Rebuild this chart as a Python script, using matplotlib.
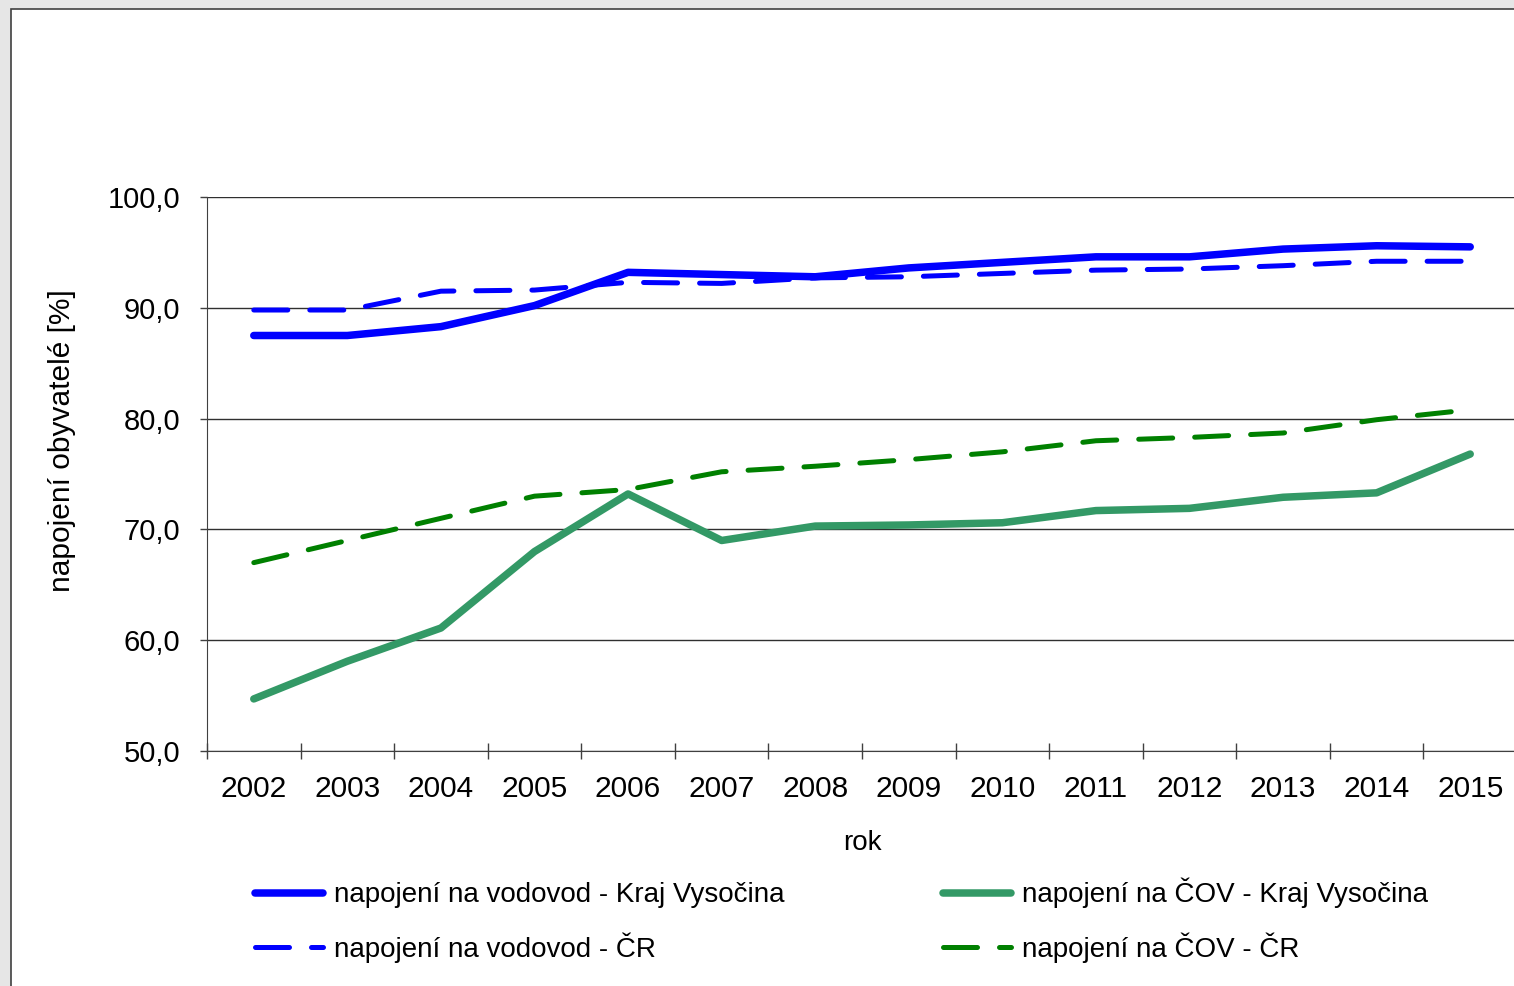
import matplotlib
matplotlib.use("Agg")
import matplotlib.pyplot as plt
from matplotlib.patches import Rectangle
from matplotlib.ticker import FuncFormatter, MultipleLocator

plt.rcParams['font.family'] = ['Liberation Sans', 'DejaVu Sans']

years = ["2002", "2003", "2004", "2005", "2006", "2007", "2008",
         "2009", "2010", "2011", "2012", "2013", "2014", "2015"]

vodovod_kraj = [87.5, 87.5, 88.3, 90.2, 93.2, 93.0, 92.8, 93.6, 94.1, 94.6, 94.6, 95.3, 95.6, 95.5]
vodovod_cr = [89.8, 89.8, 91.5, 91.6, 92.3, 92.2, 92.7, 92.8, 93.1, 93.4, 93.5, 93.8, 94.2, 94.2]
cov_kraj = [54.7, 58.1, 61.1, 68.0, 73.2, 69.0, 70.3, 70.4, 70.6, 71.7, 71.9, 72.9, 73.3, 76.8]
cov_cr = [67.0, 69.0, 71.0, 73.0, 73.6, 75.2, 75.7, 76.3, 77.0, 78.0, 78.3, 78.7, 79.9, 80.8]

labels = ["napojení na vodovod - Kraj Vysočina", "napojení na vodovod - ČR",
          "napojení na ČOV - Kraj Vysočina", "napojení na ČOV - ČR"]

W, H = 1514, 986
fs = 20
fig = plt.figure(figsize=(W / 100, H / 100), dpi=100, facecolor='#e6e6e6')

# white chart panel with a dark border (cropped on the right and bottom)
fig.patches.append(Rectangle((11 / W, -0.05), 1.1, 1 - 9 / H + 0.05, transform=fig.transFigure,
                             facecolor='white', edgecolor='#404040', linewidth=1.2, zorder=-5))

ax = fig.add_axes([207 / W, (H - 751) / H, (1517 - 207) / W, (751 - 197) / H])
ax.set_facecolor('none')

x = list(range(len(years)))
lw_solid = 5.4
lw_dash = 3.6
ax.plot(x, vodovod_kraj, color='#0000ff', lw=lw_solid, solid_capstyle='round', solid_joinstyle='round', label=labels[0], zorder=4)
ax.plot(x, vodovod_cr, color='#0000ff', lw=lw_dash, dashes=(6.8, 4.4), dash_capstyle='round', label=labels[1], zorder=3)
ax.plot(x, cov_kraj, color='#339966', lw=lw_solid, solid_capstyle='round', solid_joinstyle='round', label=labels[2], zorder=4)
ax.plot(x, cov_cr, color='#008000', lw=lw_dash, dashes=(6.8, 4.4), dash_capstyle='round', label=labels[3], zorder=3)

ax.set_xlim(-0.5, 13.5)
ax.set_ylim(50, 100)
ax.yaxis.set_major_locator(MultipleLocator(10))
ax.yaxis.set_major_formatter(FuncFormatter(lambda v, p: f"{v:.1f}".replace('.', ',')))
ax.grid(axis='y', color='#303030', linewidth=1.0)
ax.set_axisbelow(True)
# top gridline is barely visible in the original
ax.get_ygridlines()[-1].set_color('#f2f2f2')

ax.set_xticks(x)
ax.set_xticklabels(years)
ax.set_xticks([i - 0.5 for i in range(len(years) + 1)], minor=True)
ax.tick_params(axis='x', which='major', length=0, pad=17, labelsize=21.5)
ax.tick_params(axis='x', which='minor', direction='inout', length=11, width=1, color='#404040')
ax.tick_params(axis='y', which='major', direction='out', length=5, width=1, color='#404040', labelsize=21, pad=14)

for s in ['top', 'right']:
    ax.spines[s].set_visible(False)
ax.spines['left'].set_color('#404040')
ax.spines['bottom'].set_color('#404040')

ax.set_xlabel("rok", fontsize=fs, labelpad=20)
ax.set_ylabel("napojení obyvatelé [%]", fontsize=21.5)
ax.yaxis.set_label_coords(-0.1, 0.56)

fig.legend(loc='upper left', bbox_to_anchor=(255 / W, 1 - 878 / H), ncol=2, frameon=False,
           fontsize=fs, handlelength=2.45, handletextpad=0.4, columnspacing=5.7,
           labelspacing=0.85, borderpad=0, borderaxespad=0)

fig.savefig("out.png", dpi=100, facecolor=fig.get_facecolor())
